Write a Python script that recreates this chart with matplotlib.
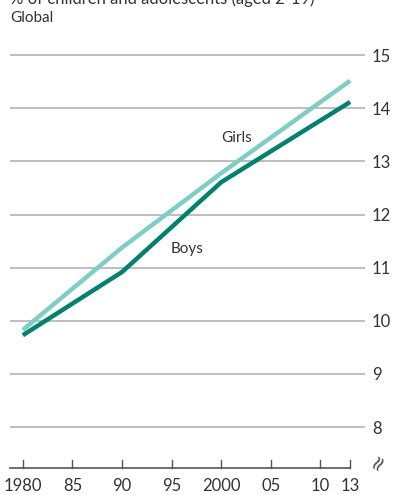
import matplotlib.pyplot as plt

plt.rcParams['font.family'] = ['Liberation Sans Narrow', 'Lato', 'DejaVu Sans']

# Obesity share, % of children and adolescents
years = [1980, 1990, 2000, 2013]
girls = [9.83, 11.38, 12.78, 14.52]
boys = [9.73, 10.92, 12.61, 14.12]

x_ticks = [1980, 1985, 1990, 1995, 2000, 2005, 2010, 2013]
x_labels = ["1980", "85", "90", "95", "2000", "05", "10", "13"]
y_ticks = [8, 9, 10, 11, 12, 13, 14, 15]

girls_color = "#7fcec5"
boys_color = "#00826f"
text_color = "#333333"

fig = plt.figure(figsize=(3.93, 4.95), dpi=100)
ax = fig.add_axes([10 / 393, 27 / 495, 355 / 393, 468 / 495])

ax.set_xlim(1978.7, 2014.5)
ax.set_ylim(7.23, 16.04)

for v in y_ticks:
    ax.axhline(v, color="#b3b3b3", lw=1.2, zorder=1)

ax.plot(years, girls, color=girls_color, lw=3.2, solid_capstyle="butt", zorder=3)
ax.plot(years, boys, color=boys_color, lw=3.2, solid_capstyle="butt", zorder=4)

ax.text(2001.6, 13.45, "Girls", fontsize=11, color=text_color, ha="center", va="center")
ax.text(1996.6, 11.35, "Boys", fontsize=11, color=text_color, ha="center", va="center")

for s in ax.spines.values():
    s.set_visible(False)

# x axis line stops at the last year, ticks point up
ax.plot([1978.7, 2013], [7.23, 7.23], color="#555555", lw=1.2, clip_on=False, zorder=5)
for t in x_ticks:
    ax.plot([t, t], [7.23, 7.38], color="#555555", lw=1.0, clip_on=False, zorder=5)

ax.set_xticks(x_ticks)
ax.set_xticklabels(x_labels)
ax.tick_params(axis="x", length=0, pad=7, labelsize=12, labelcolor=text_color)

ax.set_yticks(y_ticks)
ax.set_yticklabels([str(v) for v in y_ticks])
ax.yaxis.tick_right()
ax.tick_params(axis="y", length=0, pad=5, labelsize=12, labelcolor=text_color)

# axis break mark
fig.text(378 / 393, 1 - 462 / 495, "≈", rotation=60, fontsize=15, color="#555555",
         family="DejaVu Sans", ha="center", va="center")

fig.text(10 / 393, 1 + 1 / 495, "% of children and adolescents (aged 2-19)", fontsize=12,
         color=text_color, ha="left", va="center")
fig.text(10 / 393, 1 - 18 / 495, "Global", fontsize=11, color=text_color, ha="left", va="center")

fig.savefig("out.png", dpi=100, facecolor="white")
